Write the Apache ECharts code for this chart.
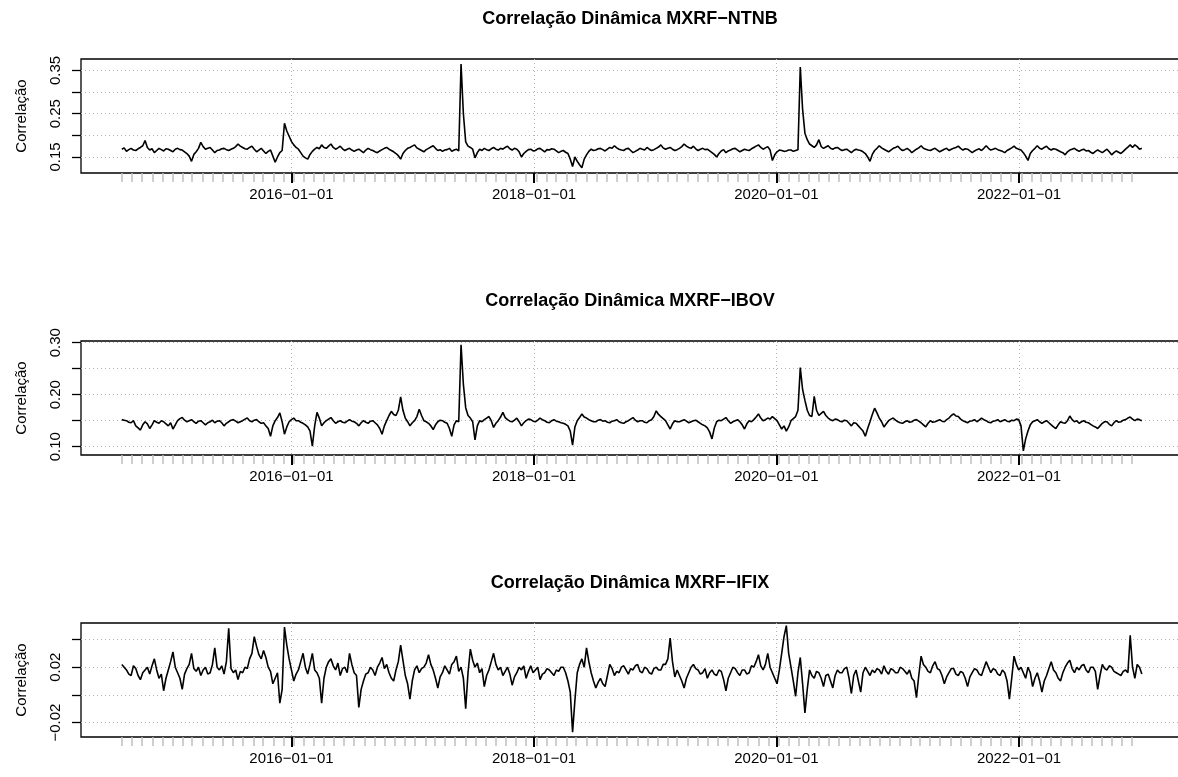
<!DOCTYPE html>
<html><head><meta charset="utf-8">
<script src="https://cdn.jsdelivr.net/npm/echarts@6/dist/echarts.min.js"></script>
<style>html,body{margin:0;padding:0;background:#fff}#c{width:1178px;height:777px}</style>
</head><body><div id="c"></div>
<script>
// ---- data ----
const titles = ['Correlação Dinâmica MXRF\u2212NTNB', 'Correlação Dinâmica MXRF\u2212IBOV', 'Correlação Dinâmica MXRF\u2212IFIX'];
const yName = 'Correlação';
const startDate = '2014-08-08';
const stepDays = 7;
const ntnb = [
0.168,0.171,0.163,0.167,0.170,0.166,0.165,0.169,0.172,0.176,0.188,0.172,0.166,0.169,0.160,0.165,0.170,0.167,0.164,0.169,
0.168,0.165,0.162,0.168,0.170,0.167,0.166,0.162,0.158,0.152,0.140,0.156,0.162,0.170,0.184,0.174,0.168,0.170,0.172,0.166,
0.160,0.165,0.166,0.169,0.170,0.167,0.165,0.168,0.170,0.174,0.180,0.175,0.172,0.169,0.168,0.172,0.175,0.168,0.162,0.166,
0.170,0.164,0.158,0.163,0.166,0.152,0.138,0.150,0.160,0.165,0.228,0.210,0.198,0.186,0.178,0.172,0.168,0.160,0.152,0.148,
0.145,0.156,0.163,0.168,0.172,0.169,0.178,0.172,0.170,0.175,0.180,0.172,0.168,0.171,0.175,0.169,0.165,0.168,0.170,0.166,
0.163,0.166,0.168,0.164,0.160,0.166,0.170,0.167,0.165,0.162,0.160,0.164,0.167,0.170,0.172,0.168,0.165,0.162,0.158,0.153,
0.145,0.158,0.165,0.170,0.172,0.175,0.178,0.171,0.168,0.165,0.162,0.167,0.170,0.173,0.176,0.170,0.165,0.167,0.163,0.166,
0.167,0.170,0.163,0.166,0.168,0.164,0.365,0.250,0.185,0.175,0.172,0.168,0.148,0.160,0.168,0.165,0.170,0.167,0.165,0.169,
0.172,0.168,0.166,0.170,0.168,0.172,0.175,0.169,0.166,0.170,0.168,0.162,0.150,0.158,0.163,0.167,0.168,0.164,0.165,0.169,
0.170,0.166,0.162,0.167,0.166,0.169,0.168,0.164,0.160,0.163,0.165,0.161,0.158,0.145,0.128,0.150,0.140,0.132,0.125,0.145,
0.155,0.163,0.168,0.165,0.166,0.169,0.170,0.167,0.164,0.168,0.172,0.170,0.176,0.171,0.168,0.166,0.165,0.169,0.170,0.165,
0.160,0.163,0.166,0.170,0.168,0.166,0.172,0.168,0.165,0.167,0.170,0.173,0.178,0.171,0.168,0.170,0.172,0.168,0.165,0.167,
0.170,0.174,0.180,0.175,0.172,0.170,0.175,0.169,0.165,0.168,0.170,0.167,0.168,0.164,0.160,0.156,0.150,0.158,0.164,0.167,
0.160,0.164,0.166,0.169,0.170,0.166,0.162,0.165,0.168,0.166,0.165,0.169,0.172,0.175,0.178,0.172,0.168,0.171,0.174,0.166,
0.142,0.155,0.162,0.166,0.165,0.163,0.164,0.166,0.166,0.163,0.165,0.167,0.358,0.260,0.205,0.190,0.180,0.176,0.172,0.178,
0.190,0.174,0.170,0.173,0.176,0.170,0.168,0.171,0.172,0.168,0.165,0.167,0.168,0.164,0.160,0.165,0.168,0.166,0.165,0.162,
0.158,0.150,0.140,0.156,0.165,0.170,0.176,0.171,0.168,0.165,0.162,0.166,0.170,0.172,0.175,0.169,0.165,0.167,0.170,0.166,
0.160,0.164,0.168,0.171,0.176,0.170,0.168,0.166,0.165,0.168,0.170,0.166,0.162,0.165,0.168,0.170,0.165,0.168,0.170,0.172,
0.175,0.170,0.166,0.169,0.168,0.164,0.160,0.164,0.167,0.169,0.165,0.170,0.176,0.170,0.166,0.168,0.170,0.167,0.165,0.163,
0.160,0.165,0.168,0.171,0.175,0.170,0.168,0.166,0.160,0.152,0.142,0.158,0.165,0.170,0.176,0.170,0.168,0.172,0.175,0.169,
0.166,0.169,0.168,0.165,0.162,0.160,0.155,0.162,0.166,0.168,0.170,0.166,0.163,0.166,0.168,0.164,0.165,0.161,0.158,0.163,
0.166,0.163,0.160,0.164,0.168,0.162,0.155,0.160,0.164,0.161,0.158,0.163,0.168,0.173,0.178,0.172,0.178,0.174,0.168,0.170
];
const ibov = [
0.152,0.151,0.150,0.147,0.146,0.150,0.140,0.136,0.132,0.142,0.148,0.144,0.135,0.142,0.150,0.147,0.145,0.150,0.148,0.144,
0.140,0.146,0.134,0.142,0.150,0.154,0.156,0.151,0.148,0.150,0.152,0.148,0.145,0.149,0.150,0.146,0.142,0.146,0.148,0.151,
0.146,0.149,0.150,0.146,0.140,0.145,0.148,0.151,0.152,0.149,0.146,0.148,0.150,0.153,0.155,0.150,0.148,0.151,0.152,0.148,
0.145,0.146,0.140,0.135,0.120,0.140,0.150,0.156,0.165,0.148,0.124,0.138,0.148,0.152,0.155,0.150,0.150,0.147,0.145,0.142,
0.138,0.130,0.101,0.140,0.166,0.155,0.140,0.146,0.150,0.153,0.156,0.150,0.145,0.148,0.150,0.147,0.146,0.149,0.152,0.149,
0.148,0.145,0.140,0.146,0.150,0.147,0.145,0.149,0.150,0.146,0.142,0.135,0.124,0.140,0.150,0.160,0.168,0.162,0.160,0.170,
0.196,0.170,0.155,0.148,0.140,0.146,0.150,0.158,0.172,0.160,0.150,0.148,0.145,0.140,0.133,0.142,0.148,0.151,0.150,0.147,
0.145,0.135,0.120,0.142,0.150,0.148,0.296,0.220,0.175,0.160,0.155,0.148,0.113,0.140,0.150,0.148,0.152,0.155,0.158,0.150,
0.137,0.145,0.150,0.157,0.166,0.156,0.152,0.149,0.148,0.151,0.155,0.148,0.140,0.146,0.150,0.153,0.152,0.149,0.148,0.151,
0.155,0.152,0.150,0.147,0.146,0.150,0.152,0.149,0.148,0.146,0.145,0.143,0.140,0.130,0.103,0.138,0.150,0.156,0.163,0.157,
0.155,0.152,0.150,0.148,0.148,0.151,0.152,0.149,0.150,0.147,0.146,0.149,0.150,0.152,0.148,0.146,0.145,0.148,0.150,0.153,
0.156,0.151,0.148,0.150,0.150,0.147,0.146,0.150,0.152,0.158,0.169,0.162,0.158,0.154,0.150,0.142,0.134,0.144,0.150,0.148,
0.148,0.150,0.152,0.149,0.146,0.148,0.150,0.151,0.148,0.145,0.142,0.140,0.136,0.128,0.115,0.136,0.148,0.151,0.150,0.153,
0.156,0.150,0.145,0.148,0.150,0.152,0.148,0.142,0.134,0.144,0.150,0.148,0.152,0.157,0.163,0.155,0.150,0.152,0.155,0.153,
0.158,0.154,0.150,0.142,0.134,0.140,0.130,0.138,0.150,0.154,0.158,0.170,0.252,0.210,0.189,0.170,0.160,0.158,0.197,0.170,
0.160,0.164,0.168,0.160,0.155,0.152,0.150,0.153,0.152,0.149,0.148,0.151,0.150,0.145,0.140,0.146,0.145,0.140,0.135,0.130,
0.120,0.135,0.148,0.162,0.174,0.165,0.155,0.148,0.138,0.144,0.150,0.153,0.155,0.151,0.148,0.146,0.145,0.148,0.150,0.147,
0.148,0.151,0.152,0.149,0.146,0.142,0.138,0.145,0.150,0.147,0.148,0.150,0.152,0.149,0.148,0.152,0.155,0.160,0.163,0.159,
0.158,0.153,0.150,0.148,0.146,0.149,0.150,0.152,0.148,0.151,0.155,0.152,0.150,0.147,0.146,0.149,0.150,0.152,0.148,0.150,
0.152,0.149,0.148,0.151,0.150,0.153,0.152,0.140,0.092,0.115,0.130,0.142,0.148,0.150,0.152,0.148,0.145,0.148,0.150,0.146,
0.142,0.138,0.135,0.142,0.148,0.146,0.145,0.150,0.159,0.152,0.148,0.150,0.145,0.148,0.150,0.147,0.146,0.143,0.140,0.138,
0.135,0.140,0.145,0.148,0.148,0.143,0.140,0.146,0.150,0.147,0.148,0.151,0.152,0.155,0.157,0.153,0.150,0.153,0.152,0.150
];
const ifix = [
0.022,0.020,0.018,0.015,0.014,0.021,0.019,0.014,0.011,0.016,0.018,0.020,0.015,0.021,0.026,0.018,0.012,0.015,0.003,0.012,
0.018,0.024,0.031,0.020,0.016,0.012,0.004,0.015,0.019,0.022,0.030,0.019,0.017,0.020,0.014,0.018,0.020,0.015,0.016,0.022,
0.034,0.020,0.018,0.021,0.015,0.024,0.048,0.019,0.016,0.018,0.011,0.017,0.016,0.020,0.019,0.026,0.030,0.042,0.035,0.029,
0.026,0.032,0.027,0.020,0.017,0.008,0.012,0.016,-0.006,0.004,0.049,0.036,0.026,0.018,0.010,0.015,0.018,0.024,0.030,0.020,
0.015,0.022,0.030,0.018,0.016,0.012,-0.006,0.012,0.020,0.024,0.026,0.021,0.018,0.023,0.014,0.019,0.020,0.016,0.030,0.022,
0.016,0.014,-0.009,0.004,0.010,0.015,0.016,0.020,0.018,0.014,0.020,0.023,0.027,0.019,0.022,0.016,0.012,0.010,0.018,0.024,
0.036,0.025,0.014,0.008,-0.003,0.010,0.018,0.021,0.016,0.019,0.020,0.023,0.029,0.022,0.018,0.012,0.005,0.013,0.016,0.021,
0.018,0.015,0.022,0.024,0.028,0.017,0.020,0.012,-0.010,0.016,0.033,0.025,0.020,0.023,0.016,0.019,0.006,0.014,0.018,0.024,
0.030,0.022,0.018,0.020,0.014,0.017,0.020,0.015,0.007,0.013,0.016,0.020,0.018,0.021,0.012,0.017,0.021,0.016,0.018,0.020,
0.011,0.015,0.016,0.019,0.018,0.016,0.014,0.018,0.017,0.020,0.020,0.016,0.010,0.002,-0.027,-0.004,0.016,0.022,0.026,0.020,
0.034,0.024,0.016,0.010,0.005,0.009,0.012,0.008,0.006,0.014,0.022,0.019,0.014,0.017,0.016,0.020,0.021,0.018,0.015,0.019,
0.018,0.021,0.022,0.017,0.016,0.020,0.019,0.016,0.015,0.019,0.020,0.018,0.018,0.022,0.022,0.026,0.041,0.024,0.013,0.018,
0.014,0.010,0.005,0.012,0.016,0.020,0.022,0.019,0.018,0.015,0.016,0.019,0.012,0.016,0.018,0.015,0.014,0.018,0.017,0.011,
0.003,0.012,0.016,0.020,0.019,0.016,0.014,0.018,0.018,0.015,0.016,0.021,0.020,0.024,0.029,0.021,0.018,0.022,0.030,0.020,
0.016,0.012,0.008,0.018,0.030,0.042,0.050,0.030,0.020,0.010,-0.001,0.016,0.027,0.008,-0.013,0.004,0.018,0.014,0.012,0.017,
0.016,0.012,0.006,0.014,0.015,0.010,0.005,0.014,0.018,0.016,0.016,0.019,0.020,0.012,0.001,0.014,0.018,0.010,0.002,0.016,
0.020,0.017,0.014,0.018,0.016,0.019,0.018,0.015,0.021,0.017,0.015,0.019,0.018,0.016,0.016,0.020,0.019,0.017,0.015,0.018,
0.012,0.010,-0.002,0.014,0.028,0.022,0.020,0.017,0.016,0.021,0.024,0.019,0.018,0.014,0.008,0.013,0.016,0.019,0.019,0.015,
0.014,0.017,0.016,0.012,0.006,0.013,0.016,0.019,0.018,0.015,0.014,0.019,0.024,0.020,0.016,0.019,0.018,0.015,0.014,0.018,
0.016,0.010,-0.003,0.012,0.028,0.022,0.018,0.020,0.016,0.012,0.020,0.016,0.006,0.012,0.016,0.010,0.002,0.010,0.014,0.019,
0.024,0.018,0.016,0.012,0.010,0.016,0.020,0.023,0.025,0.019,0.016,0.020,0.018,0.021,0.022,0.018,0.016,0.020,0.020,0.017,
0.004,0.014,0.022,0.019,0.018,0.021,0.020,0.017,0.016,0.015,0.014,0.017,0.018,0.016,0.043,0.020,0.012,0.022,0.020,0.015
];
const yTicks = [[0.15,0.20,0.25,0.30,0.35],[0.10,0.15,0.20,0.25,0.30],[-0.02,0.00,0.02,0.04]];
const yLabels = [[0.15,0.25,0.35],[0.10,0.20,0.30],[-0.02,0.02]];
const yRanges = [[0.113,0.3765],[0.084,0.3033],[-0.0304,0.0519]];
const majorDates = ['2016-01-01','2018-01-01','2020-01-01','2022-01-01'];
const monthTickFirst = '2014-08-08';
const monthTickCount = 101;
const xRange = ['2014-04-07','2023-05-01'];

// ---- build ----
const DAY = 86400000;
const toMs = s => Date.parse(s + 'T00:00:00Z');
const t0 = toMs(startDate);
const allSeries = [ntnb, ibov, ifix];
const majorMs = majorDates.map(toMs);
const mf = new Date(toMs(monthTickFirst));
const monthMs = [];
for (let m = 0; m < monthTickCount; m++) monthMs.push(Date.UTC(mf.getUTCFullYear(), mf.getUTCMonth() + m, mf.getUTCDate()));
const xMin = toMs(xRange[0]), xMax = toMs(xRange[1]);
const FONT = "'Liberation Sans', Arial, Helvetica, sans-serif";
const tops = [59, 341, 623];
const H = 114;
const dotted = {color: '#b4b4b4', width: 1, type: [1, 3]};

const option = {animation: false, backgroundColor: '#fff', title: [], grid: [], xAxis: [], yAxis: [], series: []};
for (let g = 0; g < 3; g++) {
  option.title.push({text: titles[g], left: 630, textAlign: 'center', top: tops[g] - 49, padding: 0,
    textStyle: {fontFamily: FONT, fontSize: 18, fontWeight: 'bold', color: '#000'}});
  option.grid.push({left: 81, right: -2, top: tops[g], height: H, show: true, borderColor: '#000', borderWidth: 1.3,
    backgroundColor: 'transparent', containLabel: false, outerBoundsMode: 'none'});
  // minor monthly ticks
  option.xAxis.push({type: 'value', gridIndex: g, position: 'bottom', min: xMin, max: xMax, z: 1,
    axisLine: {show: false, onZero: false}, splitLine: {show: false}, axisLabel: {show: false},
    axisTick: {show: true, length: 9, customValues: monthMs, lineStyle: {color: '#c0c0c0', width: 1.5}}});
  // major year ticks + labels
  option.xAxis.push({type: 'value', gridIndex: g, position: 'bottom', min: xMin, max: xMax, z: 2,
    axisLine: {show: false, onZero: false},
    axisTick: {show: true, length: 10, customValues: majorMs, lineStyle: {color: '#000', width: 2}},
    axisLabel: {show: true, customValues: majorMs, margin: 14, fontFamily: FONT, fontSize: 15, color: '#000',
      formatter: v => new Date(v).toISOString().slice(0, 10).replace(/-/g, '\u2212')},
    splitLine: {show: true, lineStyle: dotted}});
  option.yAxis.push({type: 'value', gridIndex: g, min: yRanges[g][0], max: yRanges[g][1],
    name: yName, nameLocation: 'middle', nameRotate: 90, nameGap: 52, nameMoveOverlap: false,
    nameTextStyle: {fontFamily: FONT, fontSize: 15, color: '#000'},
    axisLine: {show: false, onZero: false},
    axisTick: {show: true, length: 9, customValues: yTicks[g], lineStyle: {color: '#000', width: 1.3}},
    axisLabel: {show: true, rotate: 90, margin: 18, customValues: yLabels[g], fontFamily: FONT, fontSize: 15, color: '#000',
      formatter: v => v.toFixed(2).replace('-', '\u2212')},
    splitLine: {show: true, lineStyle: dotted}});
  option.series.push({type: 'line', xAxisIndex: 2 * g + 1, yAxisIndex: g, z: 5,
    showSymbol: false, symbol: 'none', lineStyle: {color: '#000', width: 1.6}, silent: true,
    data: allSeries[g].map((v, i) => [t0 + i * stepDays * DAY, v])});
}
const chart = echarts.init(document.getElementById('c'), null, {renderer: 'canvas'});
chart.setOption(option);
</script></body></html>
